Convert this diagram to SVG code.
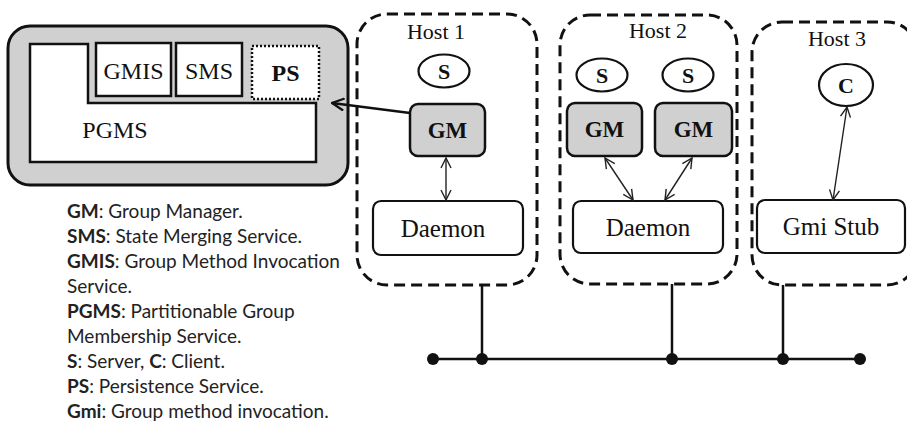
<svg xmlns="http://www.w3.org/2000/svg" width="907" height="422" viewBox="0 0 907 422">
  <style>
    .serif { font-family: "Liberation Serif", "Times New Roman", serif; fill: #111; }
    .lbl { font-size: 24px; text-anchor: middle; }
    .big { font-size: 25px; text-anchor: middle; }
    .host { font-size: 22px; text-anchor: middle; }
    .bold { font-weight: bold; }
    .gmt { font-weight: bold; font-size: 23px; text-anchor: middle; }
    .hostbox { fill: none; stroke: #111; stroke-width: 3; stroke-dasharray: 11 6; }
    .box { fill: #fff; stroke: #111; stroke-width: 2.5; }
    .gm { fill: #d0d0d0; stroke: #111; stroke-width: 2.5; }
    .proc { fill: #fff; stroke: #111; stroke-width: 2.2; }
    .thin { stroke: #222; stroke-width: 1.4; fill: none; marker-start: url(#openHead); marker-end: url(#openHead); }
    .bus { stroke: #111; stroke-width: 2.5; fill: none; }
    .legend { font-family: Lato, "Open Sans", "Liberation Sans", sans-serif; font-size: 19px; fill: #222; }
    .legend tspan.k { font-weight: bold; }
  </style>
  <defs>
    <marker id="openHead" viewBox="0 0 12 12" refX="11" refY="6" markerWidth="12" markerHeight="12" markerUnits="userSpaceOnUse" orient="auto-start-reverse">
      <path d="M1,1 L11,6 L1,11" fill="none" stroke="#222" stroke-width="1.4"/>
    </marker>
    <marker id="openHeadBold" viewBox="0 0 14 14" refX="13" refY="7" markerWidth="14" markerHeight="14" markerUnits="userSpaceOnUse" orient="auto">
      <path d="M1,1 L13,7 L1,13" fill="none" stroke="#111" stroke-width="2.2"/>
    </marker>
  </defs>

  <rect width="907" height="422" fill="#fff"/>

  <!-- PGMS service container -->
  <g id="pgms-container">
    <rect x="8" y="26" width="340" height="159" rx="22" fill="#d0d0d0" stroke="#111" stroke-width="3"/>
    <path d="M30,44 H88 V103 H316 V162 H30 Z" class="box"/>
    <text x="115" y="138" class="serif lbl">PGMS</text>
  </g>
  <g id="gmis">
    <rect x="96" y="43" width="75" height="53" class="box"/>
    <text x="133.5" y="79" class="serif lbl">GMIS</text>
  </g>
  <g id="sms">
    <rect x="176" y="43" width="66" height="53" class="box"/>
    <text x="209" y="79" class="serif lbl">SMS</text>
  </g>
  <g id="ps">
    <rect x="252" y="46" width="67" height="53" fill="#fff" stroke="#111" stroke-width="2.5" stroke-dasharray="2 2"/>
    <text x="285.5" y="81" class="serif lbl bold">PS</text>
  </g>

  <!-- Host 1 -->
  <g id="host1">
    <rect x="357" y="14" width="180" height="271" rx="30" class="hostbox"/>
    <text x="436" y="39" class="serif host">Host 1</text>
  </g>
  <g id="host1-server">
    <ellipse cx="444" cy="71" rx="25.5" ry="16.5" class="proc"/>
    <text x="444" y="79" class="serif bold" font-size="22" text-anchor="middle">S</text>
  </g>
  <g id="host1-gm">
    <rect x="410" y="104" width="75" height="52" rx="8" class="gm"/>
    <text x="447.5" y="138" class="serif gmt">GM</text>
  </g>
  <g id="host1-daemon">
    <rect x="373" y="201" width="150" height="54" rx="8" class="proc"/>
    <text x="443" y="237" class="serif big">Daemon</text>
  </g>

  <!-- Host 2 -->
  <g id="host2">
    <rect x="560" y="15" width="177" height="269" rx="30" class="hostbox"/>
    <text x="658" y="38" class="serif host">Host 2</text>
  </g>
  <g id="host2-server-a">
    <ellipse cx="602" cy="75" rx="25.5" ry="16.5" class="proc"/>
    <text x="602" y="83" class="serif bold" font-size="22" text-anchor="middle">S</text>
  </g>
  <g id="host2-server-b">
    <ellipse cx="688" cy="75" rx="25.5" ry="16.5" class="proc"/>
    <text x="688" y="83" class="serif bold" font-size="22" text-anchor="middle">S</text>
  </g>
  <g id="host2-gm-a">
    <rect x="567" y="103" width="75" height="53" rx="8" class="gm"/>
    <text x="604.5" y="137" class="serif gmt">GM</text>
  </g>
  <g id="host2-gm-b">
    <rect x="655" y="103" width="77" height="53" rx="8" class="gm"/>
    <text x="693.5" y="137" class="serif gmt">GM</text>
  </g>
  <g id="host2-daemon">
    <rect x="573" y="201" width="150" height="52" rx="8" class="proc"/>
    <text x="648" y="236" class="serif big">Daemon</text>
  </g>

  <!-- Host 3 -->
  <g id="host3">
    <rect x="752" y="22" width="165" height="263" rx="30" class="hostbox"/>
    <text x="837" y="46" class="serif host">Host 3</text>
  </g>
  <g id="host3-client">
    <ellipse cx="846" cy="85" rx="27" ry="21" class="proc"/>
    <text x="846" y="93" class="serif bold" font-size="22" text-anchor="middle">C</text>
  </g>
  <g id="host3-stub">
    <rect x="757" y="200" width="148" height="53" rx="8" class="proc"/>
    <text x="831" y="235" class="serif big">Gmi Stub</text>
  </g>

  <!-- Connectors -->
  <g id="connectors">
    <line x1="410" y1="113" x2="332" y2="103" stroke="#111" stroke-width="2.5" marker-end="url(#openHeadBold)"/>
    <line x1="446" y1="158" x2="446" y2="200" class="thin"/>
    <line x1="605" y1="158" x2="633" y2="200" class="thin"/>
    <line x1="692" y1="158" x2="665" y2="200" class="thin"/>
    <line x1="847" y1="107" x2="833" y2="200" class="thin"/>
    <line x1="433" y1="359" x2="860" y2="359" class="bus"/>
    <line x1="482" y1="285" x2="482" y2="359" class="bus"/>
    <line x1="672" y1="284" x2="672" y2="359" class="bus"/>
    <line x1="783" y1="285" x2="783" y2="359" class="bus"/>
    <circle cx="433" cy="359" r="6" fill="#111"/>
    <circle cx="482" cy="359" r="6" fill="#111"/>
    <circle cx="672" cy="359" r="6" fill="#111"/>
    <circle cx="783" cy="359" r="6" fill="#111"/>
    <circle cx="860" cy="359" r="6" fill="#111"/>
  </g>

  <!-- Legend -->
  <g id="legend" class="legend">
    <text x="67" y="218"><tspan class="k">GM</tspan>: Group Manager.</text>
    <text x="67" y="243"><tspan class="k">SMS</tspan>: State Merging Service.</text>
    <text x="67" y="268"><tspan class="k">GMIS</tspan>: Group Method Invocation</text>
    <text x="67" y="293">Service.</text>
    <text x="67" y="318"><tspan class="k">PGMS</tspan>: Partitionable Group</text>
    <text x="67" y="343">Membership Service.</text>
    <text x="67" y="368"><tspan class="k">S</tspan>: Server, <tspan class="k">C</tspan>: Client.</text>
    <text x="67" y="393"><tspan class="k">PS</tspan>: Persistence Service.</text>
    <text x="67" y="418"><tspan class="k">Gmi</tspan>: Group method invocation.</text>
  </g>
</svg>
